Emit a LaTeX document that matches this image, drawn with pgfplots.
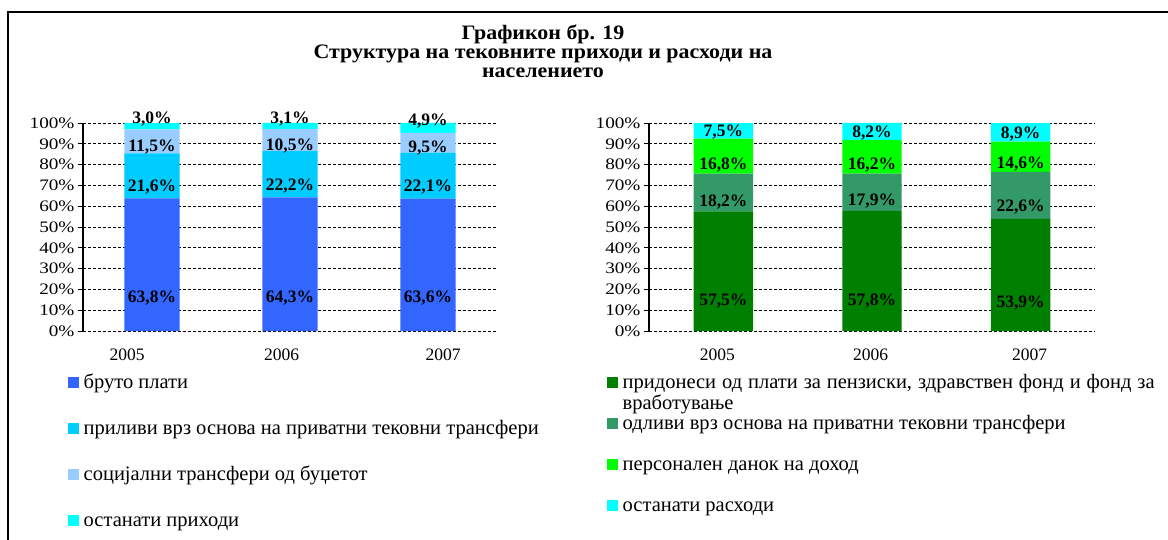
\documentclass[border=0pt]{standalone}
\usepackage{pgfplots}
\pgfplotsset{compat=1.18}
\usepackage{fontspec}
\setmainfont{Liberation Serif}
\definecolor{bBruto}{HTML}{3366FF}
\definecolor{bPriliv}{HTML}{00CCFF}
\definecolor{bSoc}{HTML}{99CCFF}
\definecolor{bOst}{HTML}{00FFFF}
\definecolor{gPrid}{HTML}{008000}
\definecolor{gOdl}{HTML}{339966}
\definecolor{gPers}{HTML}{00FF00}

\pgfplotstableread{
x v1 v2 v3 v4
0 63.8 21.6 11.5 3.0
1 64.3 22.2 10.5 3.1
2 63.6 22.1 9.5 4.9
}\prihodi
\pgfplotstableread{
x v1 v2 v3 v4
0 57.5 18.2 16.8 7.5
1 57.8 17.9 16.2 8.2
2 53.9 22.6 14.6 8.9
}\rashodi

\pgfplotsset{
  mystack/.style={
    scale only axis, height=208pt,
    ymin=0, ymax=100, xmin=-0.5, xmax=2.5,
    ybar stacked, bar width=0.4,
    clip=false,
    /pgf/number format/assume math mode=true,
    ytick={0,10,...,100},
    yticklabel={\pgfmathprintnumber{\tick}\%},
    yticklabel style={font=\fontsize{16}{16}\selectfont\addfontfeatures{FakeStretch=1.2}},
    xticklabel style={font=\fontsize{17.5}{17.5}\selectfont, yshift=-9pt},
    ymajorgrids,
    grid style={black, dash pattern=on 3pt off 2pt, line width=0.9pt},
    axis x line*=bottom, axis y line*=left,
    x axis line style={draw=none},
    y axis line style={line width=2pt},
    axis line style={-},
    xtick style={draw=none},
    ytick style={black, line width=0.9pt},
    tick align=outside, major tick length=5pt,
    nodes near coords={\pgfmathprintnumber[fixed,fixed zerofill,precision=1,use comma]{\rawy}\%},
    every node near coord/.append style={font=\fontsize{17.5}{17.5}\selectfont\bfseries, anchor=center, inner sep=0pt, shift={(axis direction cs:0,-\rawy/4)}},
    legend cell align=left,
    legend image code/.code={\fill[##1] (0pt,0pt) rectangle (10.7pt,10.7pt);},
  },
  seg/.style={visualization depends on={\thisrow{#1}\as\rawy}},
}

\begin{document}
\begin{tikzpicture}[x=1pt,y=1pt]
\useasboundingbox (0,0) rectangle (1168,539);
\draw[line width=1.8pt] (8,-5) -- (8,527) -- (1175,527);
\node[font=\fontsize{20.5}{19}\selectfont\bfseries\addfontfeatures{FakeStretch=1.07}, align=center] at (543,488) {Графикон бр. 19\\Структура на тековните приходи и расходи на\\населението};

\begin{axis}[mystack,
  at={(83pt,208pt)}, anchor=south west, width=414pt,
  xtick={-0.18,0.94,2.11}, xticklabels={2005,2006,2007},
  legend style={at={(axis description cs:0,0)}, anchor=north west, xshift=-15pt, yshift=-42pt,
    draw=none, fill=none, inner sep=0pt, outer sep=0pt, row sep=26pt, column sep=5pt,
    font=\fontsize{20.5}{20.5}\selectfont,
    nodes={anchor=base west, inner sep=0pt, text height=15pt, text depth=5pt}},
]
\addplot[fill=bBruto, draw=none, seg=v1] table[x=x,y=v1] {\prihodi};
\addplot[fill=bPriliv, draw=none, seg=v2] table[x=x,y=v2] {\prihodi};
\addplot[fill=bSoc, draw=none, seg=v3] table[x=x,y=v3] {\prihodi};
\addplot[fill=bOst, draw=none, seg=v4, every node near coord/.append style={yshift=9pt}] table[x=x,y=v4] {\prihodi};
\legend{бруто плати, приливи врз основа на приватни тековни трансфери, социјални трансфери од буџетот, останати приходи}
\end{axis}

\begin{axis}[mystack,
  at={(649pt,208pt)}, anchor=south west, width=446pt,
  xtick={-0.04,0.99,2.06}, xticklabels={2005,2006,2007},
  legend style={at={(axis description cs:0,0)}, anchor=north west, xshift=-42pt, yshift=-42pt,
    draw=none, fill=none, inner sep=0pt, outer sep=0pt, row sep=21pt, column sep=5pt,
    font=\fontsize{20.5}{21.5}\selectfont,
    nodes={anchor=base west, inner sep=0pt, text height=15pt, text depth=5pt}},
]
\addplot[fill=gPrid, draw=none, seg=v1] table[x=x,y=v1] {\rashodi};
\addplot[fill=gOdl, draw=none, seg=v2] table[x=x,y=v2] {\rashodi};
\addplot[fill=gPers, draw=none, seg=v3] table[x=x,y=v3] {\rashodi};
\addplot[fill=bOst, draw=none, seg=v4, every node near coord/.append style={yshift=3pt}] table[x=x,y=v4] {\rashodi};
\legend{\parbox[t]{532pt}{придонеси од плати за пензиски, здравствен фонд и фонд за\linebreak вработување}, одливи врз основа на приватни тековни трансфери, персонален данок на доход, останати расходи}
\end{axis}
\end{tikzpicture}
\end{document}
